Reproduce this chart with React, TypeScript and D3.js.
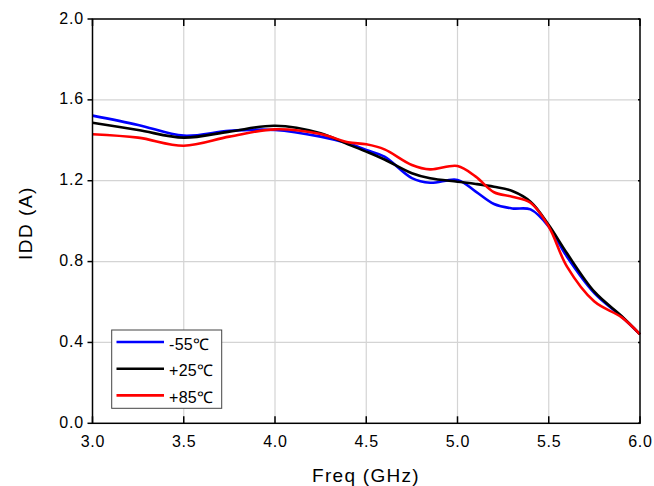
import React from "react";
import * as d3 from "d3";

const freq = [3.0, 3.25, 3.5, 3.75, 4.0, 4.25, 4.4, 4.5, 4.6, 4.75, 4.85, 5.0, 5.1, 5.2, 5.3, 5.4, 5.5, 5.6, 5.75, 5.9, 6.0];
const iddM55 = [1.522, 1.476, 1.423, 1.447, 1.451, 1.418, 1.385, 1.352, 1.319, 1.213, 1.19, 1.204, 1.146, 1.085, 1.063, 1.058, 0.973, 0.824, 0.644, 0.527, 0.44];
const iddP25 = [1.487, 1.451, 1.413, 1.443, 1.472, 1.435, 1.38, 1.344, 1.305, 1.237, 1.212, 1.195, 1.184, 1.17, 1.149, 1.096, 0.981, 0.841, 0.651, 0.53, 0.44];
const iddP85 = [1.43, 1.413, 1.373, 1.418, 1.454, 1.431, 1.39, 1.38, 1.355, 1.278, 1.256, 1.273, 1.22, 1.143, 1.121, 1.091, 0.973, 0.775, 0.602, 0.524, 0.44];

const seriesNames = ["-55℃", "+25℃", "+85℃"];
const seriesColors = ["#0000ff", "#000000", "#ff0000"];
const seriesValues = [iddM55, iddP25, iddP85];

const xTicks = [3.0, 3.5, 4.0, 4.5, 5.0, 5.5, 6.0];
const yTicks = [0.0, 0.4, 0.8, 1.2, 1.6, 2.0];

export default function App() {
  const W = 654, H = 486;
  const left = 92.5, right = 640, top = 19, bottom = 423.3;
  const x = d3.scaleLinear().domain([3, 6]).range([left, right]);
  const y = d3.scaleLinear().domain([0, 2]).range([bottom, top]);
  const line = d3
    .line<[number, number]>()
    .x((d) => x(d[0]))
    .y((d) => y(d[1]))
    .curve(d3.curveCatmullRom.alpha(0.5));
  const font = "Arial, 'Liberation Sans', sans-serif";

  return (
    <svg
      width={W}
      height={H}
      style={{ position: "absolute", left: 0, top: 0, background: "#fff" }}
      fontFamily={font}
    >
      {/* grid */}
      {xTicks.slice(1, -1).map((t) => (
        <line key={"gx" + t} x1={x(t)} x2={x(t)} y1={top} y2={bottom} stroke="#d4d4d4" strokeWidth={1.2} />
      ))}
      {yTicks.slice(1, -1).map((t) => (
        <line key={"gy" + t} x1={left} x2={right} y1={y(t)} y2={y(t)} stroke="#d4d4d4" strokeWidth={1.2} />
      ))}
      {/* series */}
      {seriesValues.map((vals, i) => (
        <path
          key={seriesNames[i]}
          d={line(freq.map((f, j) => [f, vals[j]]) as [number, number][]) || ""}
          fill="none"
          stroke={seriesColors[i]}
          strokeWidth={2.6}
          strokeLinejoin="round"
        />
      ))}
      {/* frame */}
      <rect x={left} y={top} width={right - left} height={bottom - top} fill="none" stroke="#000" strokeWidth={1.5} />
      {/* x ticks (inward, top and bottom) */}
      {xTicks.map((t) => (
        <g key={"xt" + t}>
          <line x1={x(t)} x2={x(t)} y1={bottom} y2={bottom - 7} stroke="#000" strokeWidth={1.5} />
          <line x1={x(t)} x2={x(t)} y1={top} y2={top + 7} stroke="#000" strokeWidth={1.5} />
          <text x={x(t) + 0.5} y={447} textAnchor="middle" fontSize={16} letterSpacing={0.8} fill="#000">
            {t.toFixed(1)}
          </text>
        </g>
      ))}
      {/* y ticks (outward left, inward right) */}
      {yTicks.map((t) => (
        <g key={"yt" + t}>
          <line x1={left - 5} x2={left} y1={y(t)} y2={y(t)} stroke="#000" strokeWidth={1.5} />
          <line x1={right - 2} x2={right} y1={y(t)} y2={y(t)} stroke="#000" strokeWidth={1.5} />
          <text x={84} y={y(t) + 4.5} textAnchor="end" fontSize={16} letterSpacing={0.8} fill="#000">
            {t.toFixed(1)}
          </text>
        </g>
      ))}
      {/* axis titles */}
      <text x={366} y={481.5} textAnchor="middle" fontSize={19} letterSpacing={1.3} fill="#000">
        Freq (GHz)
      </text>
      <text transform={`translate(31.5,223) rotate(-90)`} textAnchor="middle" fontSize={19} letterSpacing={1.5} fill="#000">
        IDD (A)
      </text>
      {/* legend */}
      <rect x={111.7} y={330} width={110} height={78.3} fill="#fff" stroke="#444" strokeWidth={1} />
      {seriesNames.map((n, i) => (
        <g key={"lg" + n}>
          <line x1={116.5} x2={164} y1={342 + i * 26.7} y2={342 + i * 26.7} stroke={seriesColors[i]} strokeWidth={2.6} />
          <text x={169} y={349.5 + i * 26.7} fontSize={16} letterSpacing={0.3} fill="#000">
            {n}
          </text>
        </g>
      ))}
    </svg>
  );
}
